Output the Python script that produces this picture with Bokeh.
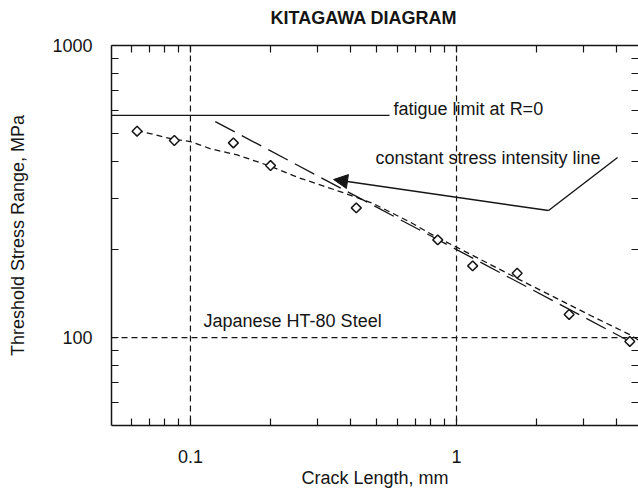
import numpy as np
from bokeh.plotting import figure
from bokeh.models import (Range1d, LogAxis, FixedTicker, Span, Label, Arrow,
                          NormalHead, CustomJSTickFormatter)
from bokeh.embed import file_html
from bokeh.resources import INLINE

# Threshold stress range measurements, Japanese HT-80 steel
crack_mm = [0.063, 0.087, 0.145, 0.20, 0.42, 0.85, 1.15, 1.69, 2.65, 4.48]
stress_mpa = [509, 473, 464, 388, 278, 216, 176, 166, 120, 97]

# Fitted threshold curve (short dashes)
curve_mm = [0.063, 0.0866, 0.1, 0.119, 0.150, 0.200, 0.252, 0.377, 0.489,
            0.672, 0.846, 1.0, 1.9, 3.19, 4.51, 4.83]
curve_mpa = [512, 477, 469, 443, 422, 386, 354, 313, 287,
             248, 220, 204, 151, 119, 102, 98]

# Constant stress intensity line (long dashes)
k_line_mm = [0.124, 4.83]
k_line_mpa = [549, 93.5]

# Fatigue limit at R=0
fatigue_mm = [0.0505, 0.56]
fatigue_mpa = [576, 576]

# Leader from the label to the constant stress intensity line
leader_mm = [4.03, 2.218, 0.345]
leader_mpa = [413.4, 272.2, 347.6]

x_major = [0.1, 1]
x_minor = [0.06, 0.07, 0.08, 0.09, 0.2, 0.3, 0.4, 0.5, 0.6, 0.7, 0.8, 0.9, 2, 3, 4]
y_major = [100, 1000]
y_minor = [60, 70, 80, 90, 200, 300, 400, 500, 600, 700, 800, 900]

INK = "#151515"
FONT = "Liberation Sans"

p = figure(width=638, height=490, x_axis_type="log", y_axis_type="log",
           x_range=Range1d(0.0505, 4.83), y_range=Range1d(50, 1000),
           output_backend="svg", toolbar_location=None,
           min_border_left=111, min_border_right=0, min_border_top=45,
           min_border_bottom=40, title="KITAGAWA DIAGRAM")
p.outline_line_color = None
p.xgrid.visible = False
p.ygrid.visible = False
p.background_fill_color = "white"
p.border_fill_color = "white"

p.title.align = "left"
p.title.offset = 159
p.title.standoff = 8
p.title.text_font = FONT
p.title.text_font_size = "18px"
p.title.text_font_style = "bold"
p.title.text_color = INK

label_fmt = CustomJSTickFormatter(code="return tick.toString()")
blank_fmt = CustomJSTickFormatter(code="return ''")


def style_axis(ax, ticks, minor, labelled):
    ax.ticker = FixedTicker(ticks=ticks, minor_ticks=minor)
    ax.axis_line_color = INK
    ax.axis_line_width = 1.5
    ax.major_tick_line_color = INK
    ax.minor_tick_line_color = INK
    ax.major_tick_line_width = 1.2
    ax.minor_tick_line_width = 1.2
    ax.major_tick_in = 7
    ax.major_tick_out = 0
    ax.minor_tick_in = 7
    ax.minor_tick_out = 0
    if labelled:
        ax.formatter = label_fmt
        ax.major_label_text_font = FONT
        ax.major_label_text_font_size = "18px"
        ax.major_label_text_color = INK
        ax.axis_label_text_font = FONT
        ax.axis_label_text_font_size = "18px"
        ax.axis_label_text_font_style = "normal"
        ax.axis_label_text_color = INK
    else:
        ax.formatter = blank_fmt
        ax.major_label_text_font_size = "0px"
        ax.major_label_standoff = 0


xb = p.xaxis[0]
style_axis(xb, x_major, x_minor, True)
xb.axis_label = "Crack Length, mm"
xb.major_label_standoff = 24
xb.axis_label_standoff = 2

yl = p.yaxis[0]
style_axis(yl, y_major, y_minor, True)
yl.axis_label = "Threshold Stress Range, MPa"
yl.major_label_standoff = 19
yl.axis_label_standoff = 21

# Top axis: ticks only; a blank axis label keeps the heading clear of the frame
xt = LogAxis()
style_axis(xt, x_major, x_minor, False)
xt.axis_label = " "
xt.axis_label_text_font_size = "10px"
xt.axis_label_standoff = 0
p.add_layout(xt, "above")

yr = LogAxis()
style_axis(yr, y_major, y_minor, False)
yr.axis_line_color = None
p.add_layout(yr, "right")

# Dashed reference lines at the decades
for loc, dim in [(0.1, "height"), (1, "height"), (100, "width")]:
    p.add_layout(Span(location=loc, dimension=dim, line_color=INK,
                      line_width=1.2, line_dash="6 4"))

p.line(fatigue_mm, fatigue_mpa, line_color=INK, line_width=1.3)
p.line(curve_mm, curve_mpa, line_color=INK, line_width=1.3, line_dash="6 4")
p.line(k_line_mm, k_line_mpa, line_color=INK, line_width=1.3, line_dash="22 8")

p.line(leader_mm[:2], leader_mpa[:2], line_color=INK, line_width=1.4)
p.add_layout(Arrow(x_start=leader_mm[1], y_start=leader_mpa[1],
                   x_end=leader_mm[2], y_end=leader_mpa[2],
                   line_color=INK, line_width=1.4,
                   end=NormalHead(size=14, fill_color=INK, line_color=INK)))

p.scatter(crack_mm, stress_mpa, marker="square", size=7, angle=np.pi / 4,
          fill_color="white", line_color=INK, line_width=1.5)

for txt, x, y in [("fatigue limit at R=0", 0.58, 604),
                  ("constant stress intensity line", 0.496, 413),
                  ("Japanese HT-80 Steel", 0.112, 114.4)]:
    p.add_layout(Label(x=x, y=y, text=txt, text_font=FONT,
                       text_font_size="18px", text_color=INK,
                       text_baseline="alphabetic"))

open("out.html", "w").write(file_html(p, INLINE))
